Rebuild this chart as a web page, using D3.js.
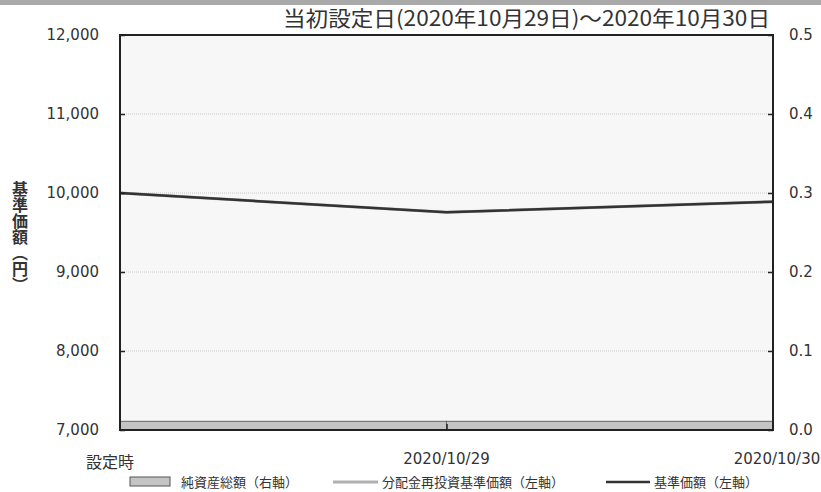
<!DOCTYPE html>
<html>
<head>
<meta charset="utf-8">
<script src="https://d3js.org/d3.v7.min.js"></script>
<style>
  body { margin: 0; background: #fff; }
  svg text { font-family: "Noto Sans CJK JP", "Noto Sans", sans-serif; fill: #333; }
  svg text.num { font-family: "DejaVu Sans", sans-serif; }
</style>
</head>
<body>
<div id="chart"></div>
<script>
"use strict"

// データ
var dates = ["設定時", "2020/10/29", "2020/10/30"];
var kijunKagaku = [10000, 9757, 9890];          // 基準価額（左軸）
var bunpaiSaitoushi = [10000, 9757, 9890];      // 分配金再投資基準価額（左軸）
var junShisan = [null, 0.011, 0.011];           // 純資産総額（右軸）
var leftTicks = [7000, 8000, 9000, 10000, 11000, 12000];
var rightTicks = [0, 0.1, 0.2, 0.3, 0.4, 0.5];
var legendLabels = ["純資産総額（右軸）", "分配金再投資基準価額（左軸）", "基準価額（左軸）"];
var title = "当初設定日(2020年10月29日)～2020年10月30日";

var W = 821, H = 492;
var margin = {top: 35, right: 48, bottom: 62, left: 120};
var x0 = margin.left, x1 = W - margin.right, y0 = margin.top, y1 = H - margin.bottom;

var svg = d3.select('#chart').append('svg').attr('width', W).attr('height', H);

// 上部のグレー帯
svg.append('rect').attr('x', 0).attr('y', 0).attr('width', W).attr('height', 5).attr('fill', '#a9a9a9');

var x = d3.scalePoint().domain(dates).range([x0, x1]);
var yL = d3.scaleLinear().domain([7000, 12000]).range([y1, y0]);
var yR = d3.scaleLinear().domain([0, 0.5]).range([y1, y0]);

// 背景
svg.append('rect').attr('x', x0).attr('y', y0).attr('width', x1 - x0).attr('height', y1 - y0).attr('fill', '#f7f7f7');

// グリッド
svg.append('g').selectAll('line').data(leftTicks.slice(1, -1)).join('line')
  .attr('x1', x0).attr('x2', x1)
  .attr('y1', d => yL(d)).attr('y2', d => yL(d))
  .attr('stroke', '#c8c8c8').attr('stroke-width', 1).attr('stroke-dasharray', '1,1');

// 純資産総額（棒）
svg.append('g').selectAll('rect').data(dates.map((d, i) => ({d: d, v: junShisan[i], i: i})).filter(e => e.v != null)).join('rect')
  .attr('x', e => x(dates[e.i - 1]))
  .attr('width', e => x(e.d) - x(dates[e.i - 1]))
  .attr('y', e => yR(e.v))
  .attr('height', e => yR(0) - yR(e.v))
  .attr('fill', '#c4c4c4').attr('stroke', '#666').attr('stroke-width', 1);

// 分配金再投資基準価額
var line = d3.line().x((d, i) => x(dates[i])).y(d => yL(d));
svg.append('path').datum(bunpaiSaitoushi).attr('d', line)
  .attr('fill', 'none').attr('stroke', '#b0b0b0').attr('stroke-width', 3);
// 基準価額
svg.append('path').datum(kijunKagaku).attr('d', line)
  .attr('fill', 'none').attr('stroke', '#333').attr('stroke-width', 2.5);

// 枠
svg.append('rect').attr('x', x0).attr('y', y0).attr('width', x1 - x0).attr('height', y1 - y0)
  .attr('fill', 'none').attr('stroke', '#222').attr('stroke-width', 2);

// 軸
var axL = svg.append('g').attr('transform', 'translate(' + x0 + ',0)')
  .call(d3.axisRight(yL).tickValues(leftTicks).tickSize(5).tickFormat(''));
axL.select('.domain').remove();
svg.append('g').selectAll('text').data(leftTicks).join('text').attr('class', 'num')
  .attr('x', x0 - 21).attr('y', d => yL(d)).attr('dy', '0.35em')
  .attr('text-anchor', 'end').attr('font-size', 15).text(d3.format(','));

var axR = svg.append('g').attr('transform', 'translate(' + x1 + ',0)')
  .call(d3.axisLeft(yR).tickValues(rightTicks).tickSize(5).tickFormat(''));
axR.select('.domain').remove();
svg.append('g').selectAll('text').data(rightTicks).join('text').attr('class', 'num')
  .attr('x', x1 + 16).attr('y', d => yR(d)).attr('dy', '0.35em')
  .attr('text-anchor', 'start').attr('font-size', 15).text(d3.format('.1f'));

var axX = svg.append('g').attr('transform', 'translate(0,' + y1 + ')')
  .call(d3.axisTop(x).tickValues([dates[1]]).tickSize(6).tickFormat(''));
axX.select('.domain').remove();
svg.selectAll('.tick line').attr('stroke', '#222').attr('stroke-width', 1.5);

svg.append('g').selectAll('text').data(dates).join('text')
  .attr('class', (d, i) => i === 0 ? null : 'num')
  .attr('x', (d, i) => i === 0 ? x(d) - 10 : (i === dates.length - 1 ? x(d) + 4 : x(d)))
  .attr('y', (d, i) => i === 0 ? y1 + 38 : y1 + 34)
  .attr('text-anchor', 'middle').attr('font-size', (d, i) => i === 0 ? 16 : 15).text(d => d);

// タイトル
svg.append('text').attr('x', 283).attr('y', 26).attr('text-anchor', 'start')
  .attr('font-size', 21).attr('textLength', 487).attr('lengthAdjust', 'spacingAndGlyphs')
  .text(title);

// 縦軸ラベル
svg.append('text').attr('x', 20).attr('y', 181).attr('font-size', 16).attr('font-weight', 'bold')
  .style('writing-mode', 'vertical-rl').attr('text-anchor', 'start')
  .text("基準価額（円）");

// 凡例
var ly = 482;
var lg = svg.append('g');
lg.append('rect').attr('x', 130).attr('y', ly - 5).attr('width', 40).attr('height', 9)
  .attr('fill', '#c4c4c4').attr('stroke', '#555').attr('stroke-width', 1);
lg.append('text').attr('x', 181).attr('y', ly).attr('dy', '0.35em').attr('font-size', 13).attr('fill', '#555').text(legendLabels[0]);
lg.append('line').attr('x1', 333).attr('x2', 378).attr('y1', ly).attr('y2', ly).attr('stroke', '#b0b0b0').attr('stroke-width', 3);
lg.append('text').attr('x', 382).attr('y', ly).attr('dy', '0.35em').attr('font-size', 13).attr('fill', '#555').text(legendLabels[1]);
lg.append('line').attr('x1', 606).attr('x2', 650).attr('y1', ly).attr('y2', ly).attr('stroke', '#333').attr('stroke-width', 2.5);
lg.append('text').attr('x', 654).attr('y', ly).attr('dy', '0.35em').attr('font-size', 13).attr('fill', '#555').text(legendLabels[2]);
</script>
</body>
</html>
